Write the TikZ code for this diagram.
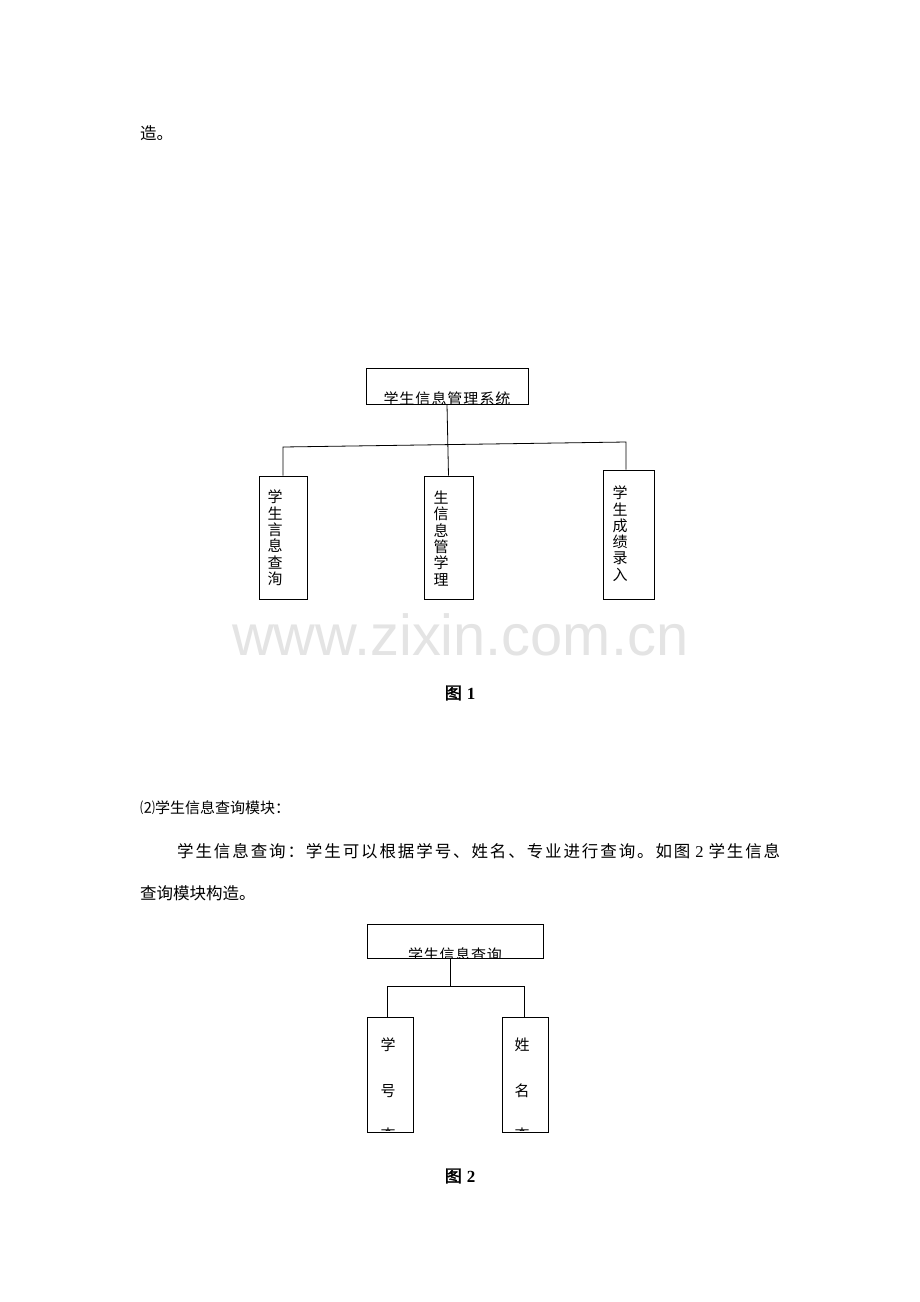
\documentclass[tikz,border=0pt]{standalone}
\usepackage{fontspec}
\setmainfont{Liberation Serif}
\newfontfamily\cjk{Noto Sans CJK SC}
\newfontfamily\cjkb[FakeBold=2]{Noto Sans CJK SC}
\newfontfamily\wmfont{Liberation Sans}
\definecolor{wm}{RGB}{228,228,228}
\makeatletter
\newcommand\spreadtxt[2]{\makebox[#1][s]{\@tfor\x:=#2\do{{\x}\hfill}\unskip}}
\makeatother
\begin{document}
\begin{tikzpicture}[x=1pt,y=-1pt,
  box/.style={draw, line width=0.8pt, inner sep=0pt},
  conn/.style={line width=0.8pt},
  body/.style={font=\cjk\fontsize{16.5}{16.5}\selectfont, inner sep=0pt, anchor=west},
  small/.style={font=\cjk\fontsize{15}{15}\selectfont, inner sep=0pt, anchor=west},
  boxtxt/.style={font=\cjk\fontsize{15}{15}\selectfont, inner sep=0pt},
  figcap/.style={font=\fontsize{17}{17}\selectfont, inner sep=0pt}]
\useasboundingbox (0,0) rectangle (920,1302);
\fill[white] (0,0) rectangle (920,1302);

% body text
\node[body] (t0) at (140,133) {造。};
\node[small] (t1) at (140,808) {⑵学生信息查询模块：};
\node[body] (t2) at (177,851) {\spreadtxt{603pt}{学生信息查询：学生可以根据学号、姓名、专业进行查询。如图{\rmfamily\hspace{3pt}2\hspace{3pt}}学生信息}};
\node[body] (t3) at (140,893) {查询模块构造。};

% watermark
\node[anchor=base west, inner sep=0pt, text=wm, font=\wmfont\fontsize{57.8}{57.8}\selectfont] (wmk) at (232,655) {www.zixin.com.cn};

% figure 1 boxes
\node[box, minimum width=162pt, minimum height=36pt] (sys) at (447,386) {};
\node[box, minimum width=48pt, minimum height=123pt] (left) at (283,537.5) {};
\node[box, minimum width=49pt, minimum height=123pt] (mid) at (448.5,537.5) {};
\node[box, minimum width=51pt, minimum height=129pt] (right) at (628.5,534.5) {};

\begin{scope}
  \clip (sys.south west) rectangle (sys.north east);
  \node[boxtxt] (systxt) at (447,398.5) {\spreadtxt{127pt}{学生信息管理系统}};
\end{scope}
\foreach \c [count=\i from 0] in {学,生,言,息,查,洵}
  \node[boxtxt] (lt\i) at (275,497+16.3*\i) {\c};
\foreach \c [count=\i from 0] in {生,信,息,管,学,理}
  \node[boxtxt] (mt\i) at (441,498+16.3*\i) {\c};
\foreach \c [count=\i from 0] in {学,生,成,绩,录,入}
  \node[boxtxt] (rt\i) at (620,493+16.3*\i) {\c};

\coordinate (hl) at (283,447);
\coordinate (hr) at (626,442);
\draw[conn] (sys.south) -- (mid.north);
\draw[conn] (left.north) -- (hl) -- (hr) -- (hr |- right.north);

\node[figcap] (cap1) at (460,693) {{\cjkb 图}\hspace{5pt}{\bfseries 1}};

% figure 2
\node[box, minimum width=176pt, minimum height=34pt] (q) at (455,941) {};
\node[box, minimum width=46pt, minimum height=115pt] (ql) at (390,1074.5) {};
\node[box, minimum width=46pt, minimum height=115pt] (qr) at (525,1074.5) {};

\begin{scope}
  \clip (q.south west) rectangle (q.north east);
  \node[boxtxt] (qtxt) at (455,955) {\spreadtxt{94pt}{学生信息查询}};
\end{scope}
\begin{scope}
  \clip (ql.south west) ++(0,-2) rectangle (ql.north east);
  \node[boxtxt] (ql0) at (388,1045) {学};
  \node[boxtxt] (ql1) at (388,1091) {号};
  \node[boxtxt] (ql2) at (388,1135) {查};
\end{scope}
\begin{scope}
  \clip (qr.south west) ++(0,-2) rectangle (qr.north east);
  \node[boxtxt] (qr0) at (522,1045) {姓};
  \node[boxtxt] (qr1) at (522,1091) {名};
  \node[boxtxt] (qr2) at (522,1135) {查};
\end{scope}

\coordinate (qj) at (450,986);
\coordinate (q2l) at (387,986);
\coordinate (q2r) at (524,986);
\draw[conn] (qj |- q.south) -- (qj);
\draw[conn] (q2l |- ql.north) -- (q2l) -- (q2r) -- (q2r |- qr.north);

\node[figcap] (cap2) at (460,1176) {{\cjkb 图}\hspace{5pt}{\bfseries 2}};
\end{tikzpicture}
\end{document}
